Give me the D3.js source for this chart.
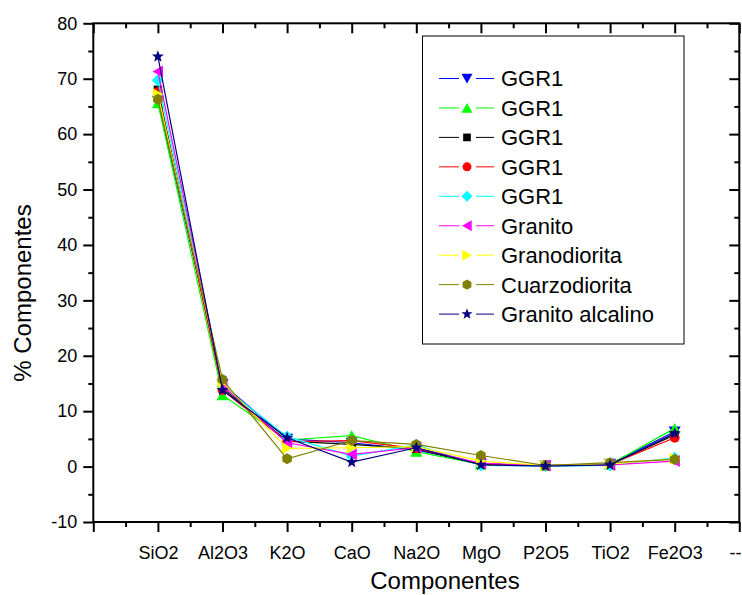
<!DOCTYPE html>
<html>
<head>
<meta charset="utf-8">
<script src="https://cdn.jsdelivr.net/npm/d3@7"></script>
<style>
  html, body { margin: 0; padding: 0; background: #fff; }
  svg { display: block; font-family: Arial, "Liberation Sans", sans-serif; }
</style>
</head>
<body>
<svg id="chart" width="742" height="595"></svg>
<script>
// ---- data ----
const categories = ["SiO2", "Al2O3", "K2O", "CaO", "Na2O", "MgO", "P2O5", "TiO2", "Fe2O3"];
const xTickLabels = ["", "SiO2", "Al2O3", "K2O", "CaO", "Na2O", "MgO", "P2O5", "TiO2", "Fe2O3", "--"];
const yTickValues = [-10, 0, 10, 20, 30, 40, 50, 60, 70, 80];
const seriesNames = ["GGR1", "GGR1", "GGR1", "GGR1", "GGR1", "Granito", "Granodiorita", "Cuarzodiorita", "Granito alcalino"];
const ggr1Blue   = [66.0, 14.9, 5.0, 4.3, 3.0, 0.5, 0.2, 0.5, 6.3];
const ggr1Green  = [65.6, 12.9, 4.8, 5.6, 2.7, 0.4, 0.2, 0.4, 6.9];
const ggr1Black  = [68.0, 14.2, 4.6, 4.0, 3.2, 0.4, 0.2, 0.4, 5.7];
const ggr1Red    = [67.6, 13.8, 4.5, 4.7, 3.3, 0.5, 0.2, 0.4, 5.2];
const ggr1Cyan   = [69.7, 14.5, 5.4, 1.9, 3.9, 0.2, 0.1, 0.2, 1.6];
const granito    = [71.3, 14.6, 4.3, 2.2, 3.4, 0.6, 0.2, 0.3, 1.0];
const granodiorita = [67.2, 15.2, 3.3, 3.4, 3.6, 1.0, 0.2, 0.5, 1.4];
const cuarzodiorita = [66.3, 15.7, 1.4, 4.7, 4.0, 2.0, 0.2, 0.7, 1.3];
const granitoAlcalino = [74.0, 13.8, 5.2, 0.8, 3.4, 0.3, 0.1, 0.3, 6.0];
const seriesValues = [ggr1Blue, ggr1Green, ggr1Black, ggr1Red, ggr1Cyan, granito, granodiorita, cuarzodiorita, granitoAlcalino];
const seriesColors = ["#0000FF", "#00FF00", "#000000", "#FF0000", "#00FFFF", "#FF00FF", "#FFFF00", "#808000", "#000080"];
const seriesSymbols = ["tdown", "tup", "square", "circle", "diamond", "tleft", "tright", "hexagon", "star"];

// ---- layout ----
const svg = d3.select("#chart");
const x = d3.scaleLinear().domain([0, 10]).range([93.3, 739.3]);
const y = d3.scaleLinear().domain([-10, 80]).range([522, 23.3]);

function symbolPath(type, s) {
  switch (type) {
    case "tdown": return `M${-s},${-s*0.85}L${s},${-s*0.85}L0,${s*0.9}Z`;
    case "tup": return `M${-s},${s*0.85}L${s},${s*0.85}L0,${-s*0.9}Z`;
    case "tleft": return `M${-s*0.9},0L${s*0.85},${-s}L${s*0.85},${s}Z`;
    case "tright": return `M${s*0.9},0L${-s*0.85},${-s}L${-s*0.85},${s}Z`;
    case "square": { const h = s*0.7; return `M${-h},${-h}H${h}V${h}H${-h}Z`; }
    case "diamond": return `M0,${-s}L${s},0L0,${s}L${-s},0Z`;
    case "circle": { const r = s*0.82; return `M${r},0A${r},${r} 0 1,1 ${-r},0A${r},${r} 0 1,1 ${r},0Z`; }
    case "hexagon": {
      const r = s*0.92; let p = "";
      for (let i = 0; i < 6; i++) { const a = Math.PI/3*i - Math.PI/2; p += (i ? "L" : "M") + (r*Math.cos(a)).toFixed(2) + "," + (r*Math.sin(a)).toFixed(2); }
      return p + "Z";
    }
    case "star": {
      const R = s*1.05, ri = R*0.42; let p = "";
      for (let i = 0; i < 10; i++) { const rr = i % 2 ? ri : R; const a = Math.PI/5*i - Math.PI/2; p += (i ? "L" : "M") + (rr*Math.cos(a)).toFixed(2) + "," + (rr*Math.sin(a)).toFixed(2); }
      return p + "Z";
    }
  }
}

// ---- series ----
const line = d3.line().x((d, i) => x(i + 1)).y(d => y(d));
seriesValues.forEach((vals, si) => {
  const g = svg.append("g");
  g.append("path").attr("d", line(vals)).attr("fill", "none")
    .attr("stroke", seriesColors[si]).attr("stroke-width", 1.2);
  g.selectAll("path.m").data(vals).join("path").attr("class", "m")
    .attr("transform", (d, i) => `translate(${x(i + 1)},${y(d)})`)
    .attr("d", symbolPath(seriesSymbols[si], 6))
    .attr("fill", seriesColors[si]);
});

// ---- axes ----
const majorX = d3.range(0, 11);
const minorX = d3.range(0.5, 10, 1);
const majorY = yTickValues;
const minorY = d3.range(-5, 80, 10);

function styleAxis(g) {
  g.select(".domain").remove();
  g.selectAll("line").attr("stroke", "#000").attr("stroke-width", 2);
  g.selectAll("text").attr("fill", "#000").attr("font-size", 18);
}

// bottom
svg.append("g").attr("transform", `translate(0,${y(-10)})`)
  .call(d3.axisBottom(x).tickValues(majorX).tickSize(10).tickPadding(14).tickFormat(d => xTickLabels[d]))
  .call(styleAxis)
  .call(g => g.selectAll("text").filter(d => d === 10).attr("text-anchor", "end").attr("dx", "0.1em"));
svg.append("g").attr("transform", `translate(0,${y(-10)})`)
  .call(d3.axisBottom(x).tickValues(minorX).tickSize(5).tickFormat(""))
  .call(styleAxis);
// top (inward)
svg.append("g").attr("transform", `translate(0,${y(80)})`)
  .call(d3.axisBottom(x).tickValues(majorX).tickSize(10).tickFormat(""))
  .call(styleAxis);
svg.append("g").attr("transform", `translate(0,${y(80)})`)
  .call(d3.axisBottom(x).tickValues(minorX).tickSize(5).tickFormat(""))
  .call(styleAxis);
// left
svg.append("g").attr("transform", `translate(${x(0)},0)`)
  .call(d3.axisLeft(y).tickValues(majorY).tickSize(10).tickPadding(6).tickFormat(d => String(d)))
  .call(styleAxis);
svg.append("g").attr("transform", `translate(${x(0)},0)`)
  .call(d3.axisLeft(y).tickValues(minorY).tickSize(5).tickFormat(""))
  .call(styleAxis);
// right (inward)
svg.append("g").attr("transform", `translate(${x(10)},0)`)
  .call(d3.axisLeft(y).tickValues(majorY).tickSize(10).tickFormat(""))
  .call(styleAxis);
svg.append("g").attr("transform", `translate(${x(10)},0)`)
  .call(d3.axisLeft(y).tickValues(minorY).tickSize(5).tickFormat(""))
  .call(styleAxis);

// frame
svg.append("rect").attr("x", x(0)).attr("y", y(80))
  .attr("width", x(10) - x(0)).attr("height", y(-10) - y(80))
  .attr("fill", "none").attr("stroke", "#000").attr("stroke-width", 2);

// titles
svg.append("text").attr("x", 445).attr("y", 589).attr("text-anchor", "middle")
  .attr("font-size", 24).text("Componentes");
svg.append("text").attr("transform", "translate(31,293) rotate(-90)").attr("text-anchor", "middle")
  .attr("font-size", 24).text("% Componentes");

// ---- legend ----
const leg = svg.append("g");
leg.append("rect").attr("x", 422.5).attr("y", 36).attr("width", 261.5).attr("height", 308)
  .attr("fill", "#fff").attr("stroke", "#000").attr("stroke-width", 1);
seriesNames.forEach((name, i) => {
  const cy = 78.5 + i * 29.45;
  const row = leg.append("g").attr("transform", `translate(0,${cy})`);
  row.append("line").attr("x1", 439).attr("x2", 459).attr("y1", 0).attr("y2", 0)
    .attr("stroke", seriesColors[i]).attr("stroke-width", 1);
  row.append("line").attr("x1", 476).attr("x2", 494).attr("y1", 0).attr("y2", 0)
    .attr("stroke", seriesColors[i]).attr("stroke-width", 1);
  row.append("path").attr("transform", "translate(467,0)")
    .attr("d", symbolPath(seriesSymbols[i], 5.5)).attr("fill", seriesColors[i]);
  row.append("text").attr("x", 501).attr("y", 0).attr("dy", "0.36em")
    .attr("font-size", 22).attr("fill", "#000").text(name);
});
</script>
</body>
</html>
